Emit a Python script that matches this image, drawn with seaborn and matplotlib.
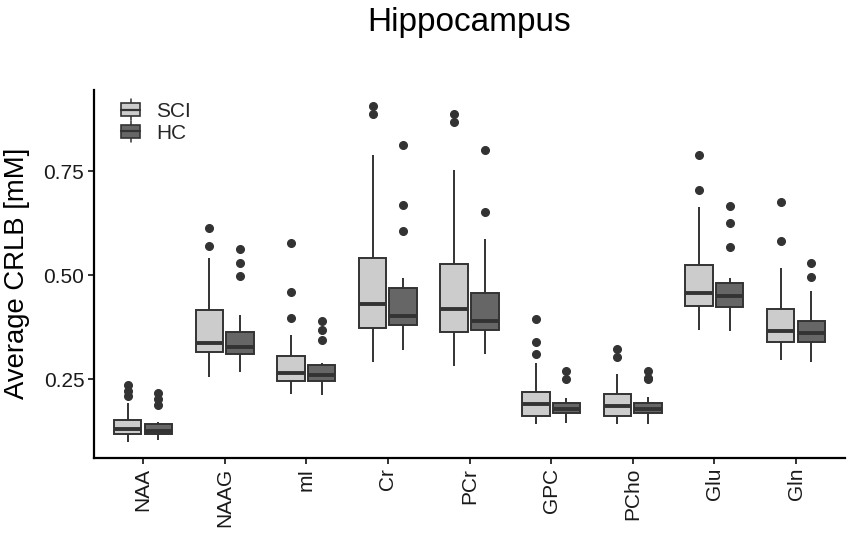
import numpy as np
import pandas as pd
import matplotlib
matplotlib.use("Agg")
import matplotlib.pyplot as plt
from matplotlib.legend_handler import HandlerBase
from matplotlib.patches import Rectangle
from matplotlib.lines import Line2D
import seaborn as sns

# ---- data (five-number summaries + outliers) ----
metabolites = ["NAA", "NAAG", "mI", "Cr", "PCr", "GPC", "PCho", "Glu", "Gln"]
groups = ["SCI", "HC"]

sci_low = [0.100, 0.255, 0.214, 0.292, 0.283, 0.142, 0.143, 0.368, 0.296]
sci_q1 = [0.118, 0.315, 0.247, 0.374, 0.363, 0.162, 0.162, 0.427, 0.340]
sci_med = [0.130, 0.337, 0.264, 0.432, 0.420, 0.190, 0.186, 0.458, 0.365]
sci_q3 = [0.153, 0.416, 0.307, 0.542, 0.527, 0.220, 0.214, 0.525, 0.420]
sci_high = [0.192, 0.542, 0.356, 0.788, 0.753, 0.290, 0.263, 0.664, 0.518]
sci_outliers = [[0.209, 0.222, 0.236], [0.571, 0.614], [0.398, 0.459, 0.578],
                [0.888, 0.907], [0.869, 0.888], [0.311, 0.339, 0.394],
                [0.304, 0.323], [0.705, 0.790], [0.582, 0.677]]

hc_low = [0.104, 0.267, 0.213, 0.320, 0.310, 0.144, 0.143, 0.366, 0.292]
hc_q1 = [0.118, 0.310, 0.247, 0.381, 0.369, 0.168, 0.168, 0.424, 0.339]
hc_med = [0.127, 0.327, 0.260, 0.403, 0.390, 0.179, 0.179, 0.451, 0.361]
hc_q3 = [0.142, 0.364, 0.284, 0.469, 0.457, 0.194, 0.194, 0.481, 0.389]
hc_high = [0.147, 0.404, 0.290, 0.493, 0.587, 0.206, 0.207, 0.494, 0.461]
hc_outliers = [[0.189, 0.203, 0.218], [0.497, 0.530, 0.563], [0.344, 0.368, 0.391],
               [0.606, 0.669, 0.813], [0.653, 0.800], [0.250, 0.271],
               [0.250, 0.254, 0.271], [0.569, 0.626, 0.667], [0.496, 0.530]]


def sample_from_summary(lo, q1, med, q3, hi, outs):
    # 17 values whose linear-interpolated quartiles equal the read summary
    body = [lo] + [q1] * 4 + [med] * 4 + [q3] * 4
    top = [hi] * (4 - len(outs)) + list(outs)
    return body + top


rows = []
for grp, (lo, q1, md, q3, hi, ol) in zip(
        groups,
        [(sci_low, sci_q1, sci_med, sci_q3, sci_high, sci_outliers),
         (hc_low, hc_q1, hc_med, hc_q3, hc_high, hc_outliers)]):
    for i, m in enumerate(metabolites):
        for v in sample_from_summary(lo[i], q1[i], md[i], q3[i], hi[i], ol[i]):
            rows.append({"metabolite": m, "group": grp, "crlb": v})
df = pd.DataFrame(rows)

# ---- plotting ----
sns.set_theme(style="white")
plt.rcParams["font.family"] = ["Liberation Sans", "DejaVu Sans"]

W, H = 851, 538
fig = plt.figure(figsize=(W / 100, H / 100), dpi=100)
ax_l, ax_r, ax_t, ax_b = 94, 845, 90, 458
ax = fig.add_axes([ax_l / W, 1 - ax_b / H, (ax_r - ax_l) / W, (ax_b - ax_t) / H])

edge = "#333333"
sns.boxplot(
    data=df, x="metabolite", y="crlb", hue="group",
    order=metabolites, hue_order=groups,
    palette={"SCI": "#cccccc", "HC": "#666666"},
    width=0.75, gap=0.1, linecolor=edge, linewidth=1.4,
    showcaps=False, saturation=1,
    flierprops=dict(marker="o", markerfacecolor=edge, markeredgecolor=edge,
                    markersize=5.5),
    medianprops=dict(color=edge, linewidth=2.8),
    ax=ax,
)

ax.set_xlim(-0.6, 8.6)
ax.set_ylim(0.061, 0.945)
ax.set_yticks([0.25, 0.50, 0.75])
ax.set_yticklabels(["0.25", "0.50", "0.75"])
ax.set_xlabel("")
ax.set_ylabel("")

for s in ["top", "right"]:
    ax.spines[s].set_visible(False)
for s in ["left", "bottom"]:
    ax.spines[s].set_color("black")
    ax.spines[s].set_linewidth(1.6)

ax.tick_params(axis="both", which="major", length=4, width=1.4, color="#333333",
               labelsize=15, labelcolor="#1a1a1a", pad=3, left=True, bottom=True)
plt.setp(ax.get_xticklabels(), rotation=90, ha="center", va="top")

fig.text(17.5 / W, 1 - 273.5 / H, "Average CRLB [mM]", rotation=90,
         ha="center", va="center", fontsize=19.8, color="black")
fig.text((ax_l + ax_r) / 2 / W, 1 - 22 / H, "Hippocampus",
         ha="center", va="center", fontsize=24, color="black")


class BoxKeyHandler(HandlerBase):
    """ggplot-like boxplot legend key: box, median line and whisker stubs."""

    def create_artists(self, legend, orig_handle, xdescent, ydescent,
                       width, height, fontsize, trans):
        x0, y0 = -xdescent, -ydescent
        fc = orig_handle.get_facecolor()
        rect = Rectangle((x0, y0), width, height, facecolor=fc,
                         edgecolor=edge, linewidth=1.2, transform=trans)
        med = Line2D([x0, x0 + width], [y0 + height / 2] * 2, color=edge,
                     linewidth=1.6, transform=trans)
        ext = height * 0.3
        wt = Line2D([x0 + width / 2] * 2, [y0 + height, y0 + height + ext],
                    color=edge, linewidth=1.1, transform=trans)
        wb = Line2D([x0 + width / 2] * 2, [y0 - ext, y0],
                    color=edge, linewidth=1.1, transform=trans)
        return [wt, wb, rect, med]


handles, labels = ax.get_legend_handles_labels()
leg = ax.legend(handles, labels, loc="upper left", bbox_to_anchor=(0.036, 0.967),
                frameon=False, fontsize=15, handlelength=0.92, handleheight=0.6,
                handletextpad=0.75, labelspacing=0.12, borderaxespad=0,
                borderpad=0, handler_map={type(h): BoxKeyHandler() for h in handles})

fig.savefig("out.png", dpi=100)
